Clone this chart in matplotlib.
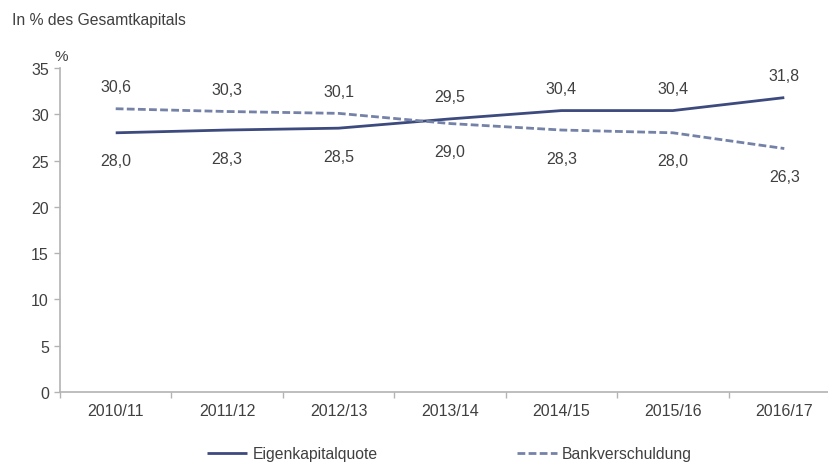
import matplotlib.pyplot as plt
import numpy as np

# Data
years = ["2010/11", "2011/12", "2012/13", "2013/14", "2014/15", "2015/16", "2016/17"]
eigenkapital = [28.0, 28.3, 28.5, 29.5, 30.4, 30.4, 31.8]
bank = [30.6, 30.3, 30.1, 29.0, 28.3, 28.0, 26.3]
eigen_above = [False, False, False, True, True, True, True]

plt.rcParams['font.family'] = ['Liberation Sans', 'DejaVu Sans']
txt = "#404040"
grey = "#b3b3b3"
c_eigen = "#3d4a7d"
c_bank = "#7582a8"

fig = plt.figure(figsize=(8.29, 4.64), dpi=100)
ax = fig.add_axes([60 / 829, 71 / 464, 780 / 829, 324 / 464])

x = np.arange(len(years))
ax.plot(x, eigenkapital, color=c_eigen, lw=2.0, label="Eigenkapitalquote", solid_capstyle="butt")
ax.plot(x, bank, color=c_bank, lw=2.0, dashes=(2.8, 1.2), label="Bankverschuldung")

fs = 11.5
for i in range(len(years)):
    up = eigen_above[i]
    ax.annotate(f"{eigenkapital[i]:.1f}".replace(".", ","), (x[i], eigenkapital[i]),
                xytext=(0, 22 if up else -28), textcoords="offset pixels",
                ha="center", va="center", fontsize=fs, color=txt)
    ax.annotate(f"{bank[i]:.1f}".replace(".", ","), (x[i], bank[i]),
                xytext=(0, -28 if up else 22), textcoords="offset pixels",
                ha="center", va="center", fontsize=fs, color=txt)

ax.set_xlim(-0.5, len(years) - 0.5)
ax.set_ylim(0, 35)
ax.set_yticks(range(0, 36, 5))
ax.set_xticks(x)
ax.set_xticklabels(years)
ax.set_xticks(np.arange(-0.5, len(years), 1), minor=True)
ax.tick_params(axis="x", which="major", length=0, pad=8, labelsize=fs, labelcolor=txt)
ax.tick_params(axis="x", which="minor", length=4, color=grey, width=1)
ax.tick_params(axis="y", length=4, color=grey, width=1, pad=4, labelsize=fs, labelcolor=txt)

for s in ["top", "right"]:
    ax.spines[s].set_visible(False)
for s in ["left", "bottom"]:
    ax.spines[s].set_color(grey)
    ax.spines[s].set_linewidth(1.2)

fig.text(12 / 829, 1 - 20 / 464, "In % des Gesamtkapitals", fontsize=11.3, color=txt, va="center")
fig.text(61 / 829, 1 - 57 / 464, "%", fontsize=11, color=txt, va="center", ha="center")

fig.legend(loc="center", bbox_to_anchor=(449.5 / 829, 9 / 464), ncol=2, frameon=False,
           fontsize=11.3, handlelength=2.55, handletextpad=0.32, columnspacing=8.85,
           labelcolor=txt)

fig.savefig("out.png", dpi=100)
